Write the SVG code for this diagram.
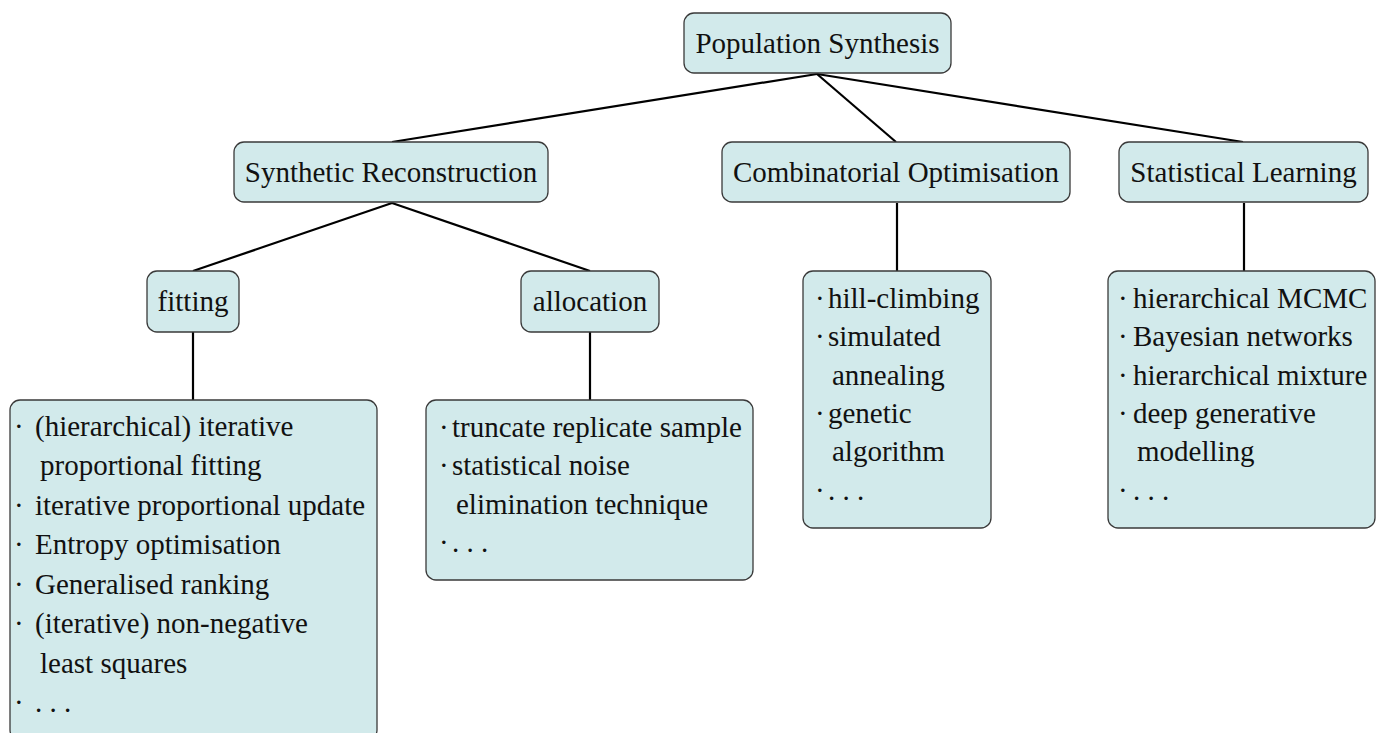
<svg xmlns="http://www.w3.org/2000/svg" width="1376" height="733" viewBox="0 0 1376 733">
<style>
.box{fill:#d2eaeb;stroke:#3a3a3a;stroke-width:1.3}
.t{font-family:"Liberation Serif","Times New Roman",serif;font-size:29px;fill:#111}
.c{text-anchor:middle}
.e{stroke:#000;stroke-width:2.2;fill:none}
</style>
<rect width="1376" height="733" fill="#fff"/>
<g id="connectors">
<line class="e" x1="817" y1="74" x2="392" y2="142"/>
<line class="e" x1="817" y1="74" x2="896" y2="142"/>
<line class="e" x1="817" y1="74" x2="1243" y2="142"/>
<line class="e" x1="392" y1="203" x2="193" y2="271"/>
<line class="e" x1="392" y1="203" x2="590" y2="271"/>
<line class="e" x1="897" y1="203" x2="897" y2="271"/>
<line class="e" x1="1244" y1="203" x2="1244" y2="271"/>
<line class="e" x1="193" y1="332" x2="193" y2="400"/>
<line class="e" x1="590" y1="332" x2="590" y2="400"/>
</g>
<g id="root">
<rect class="box" x="684" y="13" width="267" height="60" rx="10"/>
<text class="t c" x="817.5" y="53">Population Synthesis</text>
</g>
<g id="synthetic-reconstruction">
<rect class="box" x="234" y="142" width="314" height="60" rx="10"/>
<text class="t c" x="391" y="182">Synthetic Reconstruction</text>
</g>
<g id="combinatorial-optimisation">
<rect class="box" x="722" y="142" width="348" height="60" rx="10"/>
<text class="t c" x="896" y="182">Combinatorial Optimisation</text>
</g>
<g id="statistical-learning">
<rect class="box" x="1119" y="142" width="249" height="60" rx="10"/>
<text class="t c" x="1243.5" y="182">Statistical Learning</text>
</g>
<g id="fitting">
<rect class="box" x="147" y="271" width="92" height="61" rx="10"/>
<text class="t c" x="193" y="311">fitting</text>
</g>
<g id="allocation">
<rect class="box" x="521" y="271" width="138" height="61" rx="10"/>
<text class="t c" x="590" y="311">allocation</text>
</g>
<g id="fitting-list">
<rect class="box" x="10" y="400" width="367" height="340" rx="10"/>
<text class="t"><tspan x="14" y="436">·</tspan><tspan x="35" y="436">(hierarchical) iterative</tspan></text>
<text class="t" x="40" y="475">proportional fitting</text>
<text class="t"><tspan x="14" y="515">·</tspan><tspan x="35" y="515">iterative proportional update</tspan></text>
<text class="t"><tspan x="14" y="554">·</tspan><tspan x="35" y="554">Entropy optimisation</tspan></text>
<text class="t"><tspan x="14" y="594">·</tspan><tspan x="35" y="594">Generalised ranking</tspan></text>
<text class="t"><tspan x="14" y="633">·</tspan><tspan x="35" y="633">(iterative) non-negative</tspan></text>
<text class="t" x="40" y="673">least squares</text>
<text class="t"><tspan x="14" y="712">·</tspan><tspan x="35" y="712">. . .</tspan></text>
</g>
<g id="allocation-list">
<rect class="box" x="426" y="400" width="327" height="180" rx="10"/>
<text class="t"><tspan x="439" y="437">·</tspan><tspan x="452" y="437">truncate replicate sample</tspan></text>
<text class="t"><tspan x="439" y="475">·</tspan><tspan x="452" y="475">statistical noise</tspan></text>
<text class="t" x="456" y="514">elimination technique</text>
<text class="t"><tspan x="439" y="552">·</tspan><tspan x="452" y="552">. . .</tspan></text>
</g>
<g id="combinatorial-list">
<rect class="box" x="803" y="271" width="188" height="257" rx="10"/>
<text class="t"><tspan x="815" y="308">·</tspan><tspan x="828" y="308">hill-climbing</tspan></text>
<text class="t"><tspan x="815" y="346">·</tspan><tspan x="828" y="346">simulated</tspan></text>
<text class="t" x="832" y="385">annealing</text>
<text class="t"><tspan x="815" y="423">·</tspan><tspan x="828" y="423">genetic</tspan></text>
<text class="t" x="832" y="461">algorithm</text>
<text class="t"><tspan x="815" y="500">·</tspan><tspan x="828" y="500">. . .</tspan></text>
</g>
<g id="statistical-list">
<rect class="box" x="1108" y="271" width="267" height="257" rx="10"/>
<text class="t"><tspan x="1118" y="308">·</tspan><tspan x="1133" y="308">hierarchical MCMC</tspan></text>
<text class="t"><tspan x="1118" y="346">·</tspan><tspan x="1133" y="346">Bayesian networks</tspan></text>
<text class="t"><tspan x="1118" y="385">·</tspan><tspan x="1133" y="385">hierarchical mixture</tspan></text>
<text class="t"><tspan x="1118" y="423">·</tspan><tspan x="1133" y="423">deep generative</tspan></text>
<text class="t" x="1137" y="461">modelling</text>
<text class="t"><tspan x="1118" y="500">·</tspan><tspan x="1133" y="500">. . .</tspan></text>
</g>
</svg>
